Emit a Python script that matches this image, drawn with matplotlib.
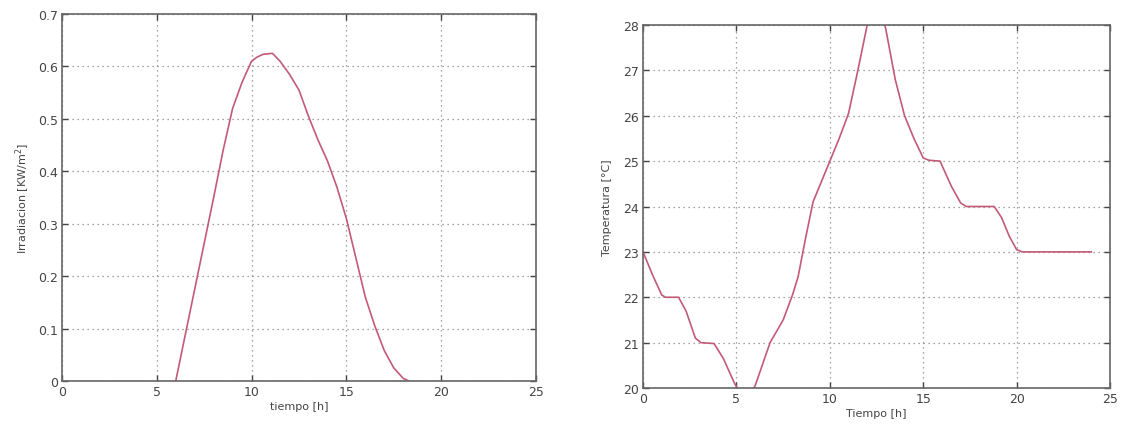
import matplotlib.pyplot as plt
import numpy as np

# Irradiation curve (left)
t_irr = [6, 7, 8, 8.5, 9, 9.5, 10, 10.3, 10.6, 11.1, 11.5, 12, 12.5, 13, 13.5, 14, 14.5,
         15, 15.5, 16, 16.5, 17, 17.5, 18, 18.3]
irr = [0.0, 0.175, 0.35, 0.44, 0.52, 0.57, 0.61, 0.618, 0.623, 0.625, 0.61, 0.585, 0.555, 0.505, 0.46,
       0.42, 0.37, 0.31, 0.235, 0.16, 0.105, 0.058, 0.025, 0.005, 0.0]

# Temperature curve (right)
t_temp = [0, 0.5, 1, 1.2, 1.9, 2.3, 2.8, 3.1, 3.8, 4.3, 4.9, 5.5, 6, 6.8, 7.5, 8, 8.3, 8.7, 9.1,
          9.5, 10, 10.5, 11, 11.5, 12, 12.5, 13, 13.5, 14, 14.5, 15, 15.3, 15.9, 16.5, 17, 17.3,
          18.8, 19.2, 19.6, 20.0, 20.3, 24]
temp = [23.0, 22.5, 22.05, 22.0, 22.0, 21.7, 21.1, 21.0, 20.98, 20.65, 20.1, 19.7, 20.05, 21.0, 21.5,
        22.05, 22.45, 23.3, 24.1, 24.5, 25.0, 25.5, 26.05, 27.0, 28.0, 28.8, 27.9, 26.8, 26.0, 25.5,
        25.07, 25.02, 25.0, 24.45, 24.08, 24.0, 24.0, 23.75, 23.35, 23.05, 23.0, 23.0]

line_color = '#c25a78'
txt = '#444444'
spine = '#666666'

fig = plt.figure(figsize=(11.25, 4.31), dpi=100)
ax1 = fig.add_axes([0.0551, 0.1137, 0.4213, 0.8515])
ax2 = fig.add_axes([0.5716, 0.0974, 0.4151, 0.8423])


def style(ax):
    ax.grid(True, linestyle=(0, (1, 3)), color='#888888', linewidth=0.9)
    ax.tick_params(direction='in', top=True, right=True, labelsize=9, colors=txt,
                   length=4, width=1, pad=3)
    for s in ax.spines.values():
        s.set_color(spine)
        s.set_linewidth(1.2)
    ax.set_xlim(0, 25)
    ax.set_xticks([0, 5, 10, 15, 20, 25])


ax1.plot(t_irr, irr, color=line_color, linewidth=1.2)
style(ax1)
ax1.set_ylim(0, 0.7)
ax1.set_yticks(np.arange(0, 0.71, 0.1))
ax1.set_yticklabels(['0', '0.1', '0.2', '0.3', '0.4', '0.5', '0.6', '0.7'])
ax1.set_xlabel('tiempo [h]', fontsize=8, color=txt, labelpad=2)
ax1.set_ylabel('Irradiacion [KW/m$^2$]', fontsize=8, color=txt, labelpad=4)

ax2.plot(t_temp, temp, color=line_color, linewidth=1.2)
style(ax2)
ax2.set_ylim(20, 28)
ax2.set_yticks(range(20, 29))
ax2.set_xlabel('Tiempo [h]', fontsize=8, color=txt, labelpad=2)
ax2.set_ylabel('Temperatura [°C]', fontsize=8, color=txt, labelpad=8)

plt.savefig('out.png', dpi=100)
